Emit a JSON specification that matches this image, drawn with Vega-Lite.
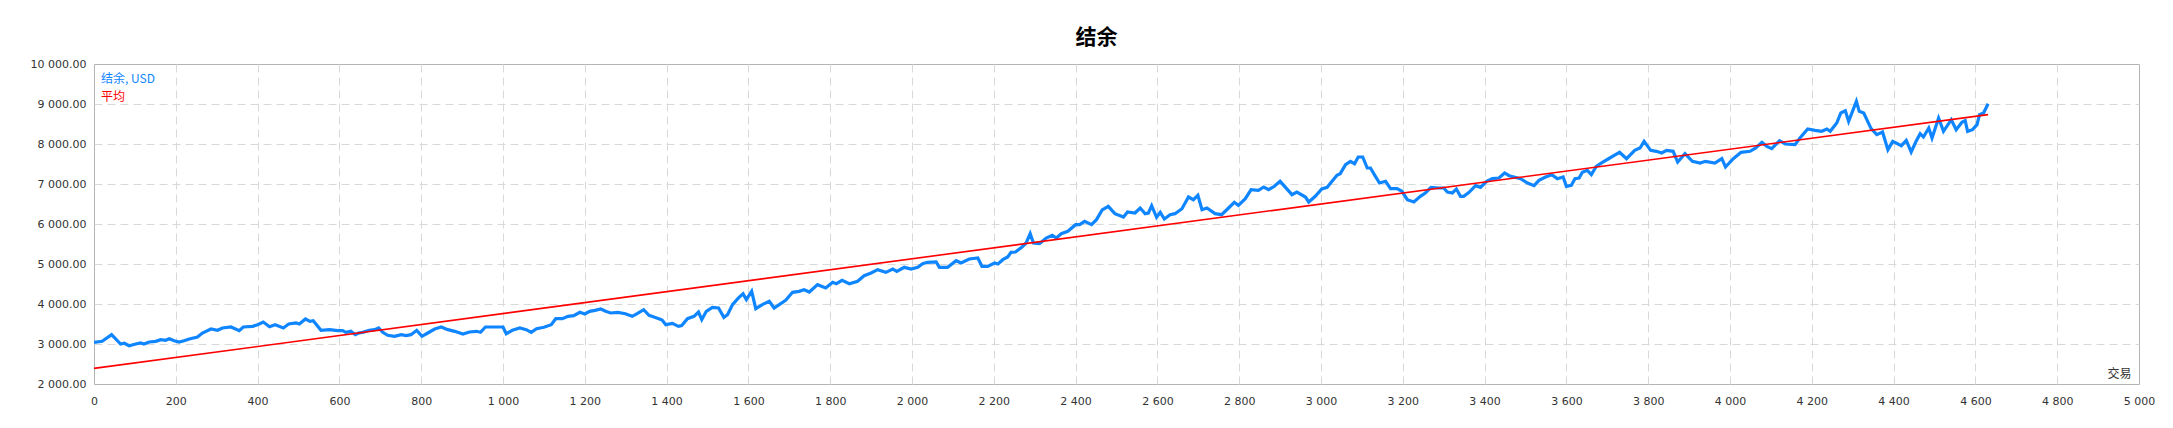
{
  "$schema": "https://vega.github.io/schema/vega-lite/v6.json",
  "width": 2045,
  "height": 320,
  "autosize": {"type": "none"},
  "padding": {"left": 94, "top": 64, "right": 34, "bottom": 44},
  "background": "white",
  "title": {"text": "结余", "font": "Noto Sans CJK SC", "fontSize": 21, "fontWeight": "bold", "color": "#000000", "anchor": "middle", "frame": "group", "dx": -20, "offset": 10},
  "config": {
    "view": {"stroke": "#b4b4b4", "strokeWidth": 1}
  },
  "datasets": {
    "bal": [
      {"t":0,"b":3042},{"t":20,"b":3067},{"t":43,"b":3233},{"t":65,"b":3000},{"t":74,"b":3020},{"t":86,"b":2958},{"t":102,"b":3000},{"t":114,"b":3025},{"t":122,"b":3000},{"t":135,"b":3050},{"t":151,"b":3067},{"t":163,"b":3108},{"t":175,"b":3092},{"t":184,"b":3133},{"t":196,"b":3083},{"t":208,"b":3050},{"t":220,"b":3083},{"t":233,"b":3125},{"t":253,"b":3175},{"t":265,"b":3275},{"t":286,"b":3375},{"t":302,"b":3342},{"t":314,"b":3400},{"t":335,"b":3425},{"t":355,"b":3333},{"t":365,"b":3425},{"t":388,"b":3442},{"t":400,"b":3483},{"t":414,"b":3550},{"t":429,"b":3433},{"t":443,"b":3483},{"t":463,"b":3400},{"t":476,"b":3500},{"t":494,"b":3525},{"t":502,"b":3500},{"t":517,"b":3625},{"t":528,"b":3567},{"t":536,"b":3583},{"t":555,"b":3342},{"t":576,"b":3358},{"t":596,"b":3333},{"t":608,"b":3333},{"t":616,"b":3292},{"t":628,"b":3317},{"t":639,"b":3233},{"t":647,"b":3275},{"t":657,"b":3292},{"t":673,"b":3342},{"t":686,"b":3358},{"t":696,"b":3400},{"t":706,"b":3292},{"t":718,"b":3217},{"t":735,"b":3192},{"t":751,"b":3233},{"t":763,"b":3208},{"t":775,"b":3233},{"t":789,"b":3342},{"t":802,"b":3192},{"t":816,"b":3275},{"t":833,"b":3375},{"t":849,"b":3425},{"t":865,"b":3358},{"t":882,"b":3317},{"t":902,"b":3250},{"t":918,"b":3300},{"t":935,"b":3317},{"t":945,"b":3292},{"t":957,"b":3425},{"t":1000,"b":3425},{"t":1008,"b":3258},{"t":1023,"b":3342},{"t":1041,"b":3400},{"t":1057,"b":3358},{"t":1069,"b":3292},{"t":1082,"b":3383},{"t":1100,"b":3417},{"t":1118,"b":3483},{"t":1129,"b":3633},{"t":1145,"b":3633},{"t":1159,"b":3692},{"t":1173,"b":3708},{"t":1188,"b":3792},{"t":1200,"b":3750},{"t":1212,"b":3817},{"t":1225,"b":3842},{"t":1239,"b":3875},{"t":1251,"b":3817},{"t":1263,"b":3775},{"t":1281,"b":3790},{"t":1299,"b":3758},{"t":1316,"b":3692},{"t":1328,"b":3758},{"t":1344,"b":3858},{"t":1357,"b":3717},{"t":1369,"b":3675},{"t":1381,"b":3633},{"t":1389,"b":3600},{"t":1398,"b":3483},{"t":1414,"b":3517},{"t":1429,"b":3442},{"t":1437,"b":3460},{"t":1451,"b":3633},{"t":1467,"b":3692},{"t":1478,"b":3800},{"t":1486,"b":3608},{"t":1497,"b":3817},{"t":1512,"b":3917},{"t":1527,"b":3900},{"t":1540,"b":3667},{"t":1549,"b":3733},{"t":1561,"b":3983},{"t":1577,"b":4167},{"t":1587,"b":4258},{"t":1595,"b":4108},{"t":1608,"b":4317},{"t":1618,"b":3883},{"t":1634,"b":3983},{"t":1651,"b":4067},{"t":1663,"b":3900},{"t":1679,"b":4008},{"t":1691,"b":4092},{"t":1708,"b":4292},{"t":1724,"b":4317},{"t":1736,"b":4358},{"t":1749,"b":4300},{"t":1769,"b":4483},{"t":1789,"b":4400},{"t":1806,"b":4542},{"t":1815,"b":4508},{"t":1829,"b":4592},{"t":1847,"b":4508},{"t":1867,"b":4567},{"t":1883,"b":4708},{"t":1900,"b":4775},{"t":1916,"b":4858},{"t":1936,"b":4792},{"t":1953,"b":4875},{"t":1963,"b":4817},{"t":1981,"b":4917},{"t":1998,"b":4875},{"t":2014,"b":4917},{"t":2026,"b":5008},{"t":2038,"b":5042},{"t":2059,"b":5050},{"t":2067,"b":4917},{"t":2087,"b":4917},{"t":2108,"b":5083},{"t":2120,"b":5025},{"t":2140,"b":5125},{"t":2161,"b":5150},{"t":2171,"b":4942},{"t":2185,"b":4942},{"t":2202,"b":5025},{"t":2210,"b":5000},{"t":2222,"b":5108},{"t":2234,"b":5175},{"t":2242,"b":5292},{"t":2253,"b":5300},{"t":2269,"b":5425},{"t":2279,"b":5525},{"t":2289,"b":5758},{"t":2297,"b":5525},{"t":2312,"b":5508},{"t":2328,"b":5650},{"t":2343,"b":5717},{"t":2353,"b":5650},{"t":2365,"b":5758},{"t":2381,"b":5817},{"t":2400,"b":5983},{"t":2410,"b":5983},{"t":2422,"b":6067},{"t":2439,"b":5983},{"t":2451,"b":6108},{"t":2465,"b":6350},{"t":2480,"b":6442},{"t":2496,"b":6258},{"t":2517,"b":6175},{"t":2527,"b":6300},{"t":2545,"b":6275},{"t":2558,"b":6400},{"t":2570,"b":6258},{"t":2578,"b":6275},{"t":2586,"b":6458},{"t":2598,"b":6167},{"t":2607,"b":6292},{"t":2617,"b":6125},{"t":2631,"b":6233},{"t":2643,"b":6258},{"t":2660,"b":6383},{"t":2676,"b":6675},{"t":2688,"b":6608},{"t":2699,"b":6717},{"t":2709,"b":6358},{"t":2721,"b":6400},{"t":2741,"b":6258},{"t":2757,"b":6233},{"t":2774,"b":6400},{"t":2788,"b":6542},{"t":2798,"b":6467},{"t":2815,"b":6633},{"t":2829,"b":6858},{"t":2847,"b":6842},{"t":2860,"b":6925},{"t":2872,"b":6858},{"t":2886,"b":6942},{"t":2900,"b":7067},{"t":2911,"b":6942},{"t":2929,"b":6733},{"t":2941,"b":6800},{"t":2962,"b":6675},{"t":2970,"b":6550},{"t":2986,"b":6692},{"t":3002,"b":6875},{"t":3015,"b":6917},{"t":3039,"b":7217},{"t":3047,"b":7258},{"t":3060,"b":7483},{"t":3072,"b":7567},{"t":3082,"b":7508},{"t":3091,"b":7675},{"t":3102,"b":7675},{"t":3113,"b":7400},{"t":3121,"b":7400},{"t":3133,"b":7192},{"t":3143,"b":7025},{"t":3158,"b":7067},{"t":3170,"b":6883},{"t":3186,"b":6883},{"t":3198,"b":6817},{"t":3211,"b":6608},{"t":3227,"b":6550},{"t":3243,"b":6692},{"t":3255,"b":6775},{"t":3269,"b":6917},{"t":3288,"b":6900},{"t":3300,"b":6900},{"t":3309,"b":6800},{"t":3321,"b":6775},{"t":3331,"b":6875},{"t":3341,"b":6692},{"t":3349,"b":6692},{"t":3362,"b":6792},{"t":3378,"b":6958},{"t":3390,"b":6917},{"t":3405,"b":7067},{"t":3419,"b":7133},{"t":3435,"b":7150},{"t":3449,"b":7275},{"t":3460,"b":7208},{"t":3488,"b":7133},{"t":3505,"b":7025},{"t":3521,"b":6958},{"t":3533,"b":7092},{"t":3549,"b":7175},{"t":3564,"b":7233},{"t":3578,"b":7133},{"t":3592,"b":7175},{"t":3600,"b":6942},{"t":3612,"b":6967},{"t":3621,"b":7133},{"t":3631,"b":7150},{"t":3639,"b":7292},{"t":3651,"b":7342},{"t":3661,"b":7233},{"t":3673,"b":7442},{"t":3688,"b":7542},{"t":3702,"b":7625},{"t":3717,"b":7717},{"t":3730,"b":7792},{"t":3747,"b":7633},{"t":3767,"b":7842},{"t":3780,"b":7900},{"t":3790,"b":8067},{"t":3806,"b":7842},{"t":3820,"b":7817},{"t":3833,"b":7775},{"t":3845,"b":7842},{"t":3861,"b":7817},{"t":3872,"b":7550},{"t":3890,"b":7758},{"t":3908,"b":7567},{"t":3927,"b":7525},{"t":3940,"b":7567},{"t":3963,"b":7525},{"t":3980,"b":7633},{"t":3989,"b":7425},{"t":4008,"b":7633},{"t":4027,"b":7792},{"t":4049,"b":7817},{"t":4063,"b":7900},{"t":4078,"b":8042},{"t":4090,"b":7942},{"t":4102,"b":7883},{"t":4121,"b":8083},{"t":4135,"b":8000},{"t":4159,"b":7983},{"t":4171,"b":8150},{"t":4190,"b":8375},{"t":4208,"b":8342},{"t":4224,"b":8317},{"t":4237,"b":8375},{"t":4245,"b":8317},{"t":4261,"b":8525},{"t":4271,"b":8775},{"t":4282,"b":8833},{"t":4290,"b":8567},{"t":4309,"b":9067},{"t":4316,"b":8817},{"t":4327,"b":8775},{"t":4345,"b":8383},{"t":4359,"b":8233},{"t":4373,"b":8300},{"t":4386,"b":7858},{"t":4398,"b":8067},{"t":4419,"b":7958},{"t":4431,"b":8092},{"t":4443,"b":7800},{"t":4455,"b":8067},{"t":4465,"b":8258},{"t":4473,"b":8175},{"t":4486,"b":8400},{"t":4494,"b":8150},{"t":4510,"b":8650},{"t":4522,"b":8317},{"t":4541,"b":8608},{"t":4553,"b":8358},{"t":4567,"b":8542},{"t":4575,"b":8583},{"t":4581,"b":8317},{"t":4593,"b":8358},{"t":4604,"b":8483},{"t":4610,"b":8733},{"t":4620,"b":8775},{"t":4631,"b":9008}
    ],
    "avg": [
      {"t": 0, "b": 2390},
      {"t": 4631, "b": 8735}
    ]
  },
  "encoding": {
    "x": {
      "field": "t", "type": "quantitative",
      "scale": {"domain": [0, 5000], "nice": false, "zero": false},
      "axis": {
        "values": [0,200,400,600,800,1000,1200,1400,1600,1800,2000,2200,2400,2600,2800,3000,3200,3400,3600,3800,4000,4200,4400,4600,4800,5000],
        "labelExpr": "replace(format(datum.value, ','), ',', ' ')",
        "title": "交易", "titleX": 2037, "titleY": -11, "titleAlign": "right", "titleBaseline": "middle", "titleAngle": 0,
        "titleFont": "Noto Sans CJK SC", "titleFontSize": 12, "titleFontWeight": "normal", "titleColor": "#333333",
        "grid": true, "gridDash": [8, 5], "gridColor": "#d9d9d9",
        "gridOpacity": {"condition": {"test": "datum.value === 0 || datum.value === 5000", "value": 0}, "value": 1},
        "domain": false, "ticks": false, "tickSize": 0, "labelPadding": 11,
        "labelFont": "DejaVu Sans", "labelFontSize": 11, "labelColor": "#333333",
        "labelFlush": false, "labelOverlap": false
      }
    },
    "y": {
      "field": "b", "type": "quantitative",
      "scale": {"domain": [2000, 10000], "nice": false, "zero": false},
      "axis": {
        "values": [2000,3000,4000,5000,6000,7000,8000,9000,10000],
        "labelExpr": "replace(format(datum.value, ',.2f'), ',', ' ')",
        "title": null,
        "grid": true, "gridDash": [8, 5], "gridColor": "#d9d9d9",
        "gridOpacity": {"condition": {"test": "datum.value === 2000 || datum.value === 10000", "value": 0}, "value": 1},
        "domain": false, "ticks": false, "tickSize": 0, "labelPadding": 8,
        "labelFont": "DejaVu Sans", "labelFontSize": 11, "labelColor": "#333333",
        "labelFlush": false, "labelOverlap": false
      }
    }
  },
  "layer": [
    {
      "data": {"name": "bal"},
      "mark": {"type": "line", "strokeWidth": 3.2, "clip": true},
      "encoding": {
        "color": {
          "datum": "结余, USD", "type": "nominal",
          "scale": {"domain": ["结余, USD", "平均"], "range": ["#0f86ff", "#ff0000"]},
          "legend": {
            "orient": "top-left", "title": null, "offset": 9, "padding": 0,
            "symbolSize": 0, "symbolOpacity": 0, "symbolStrokeWidth": 0, "labelOffset": -14,
            "labelFont": "Noto Sans CJK SC", "labelFontSize": 12, "rowPadding": 6, "labelLimit": 0,
            "labelColor": {"expr": "datum.value === '平均' ? '#ff0000' : '#0f86ff'"}
          }
        }
      }
    },
    {
      "data": {"name": "avg"},
      "mark": {"type": "line", "strokeWidth": 1.6},
      "encoding": {
        "color": {"datum": "平均", "type": "nominal"}
      }
    }
  ]
}
